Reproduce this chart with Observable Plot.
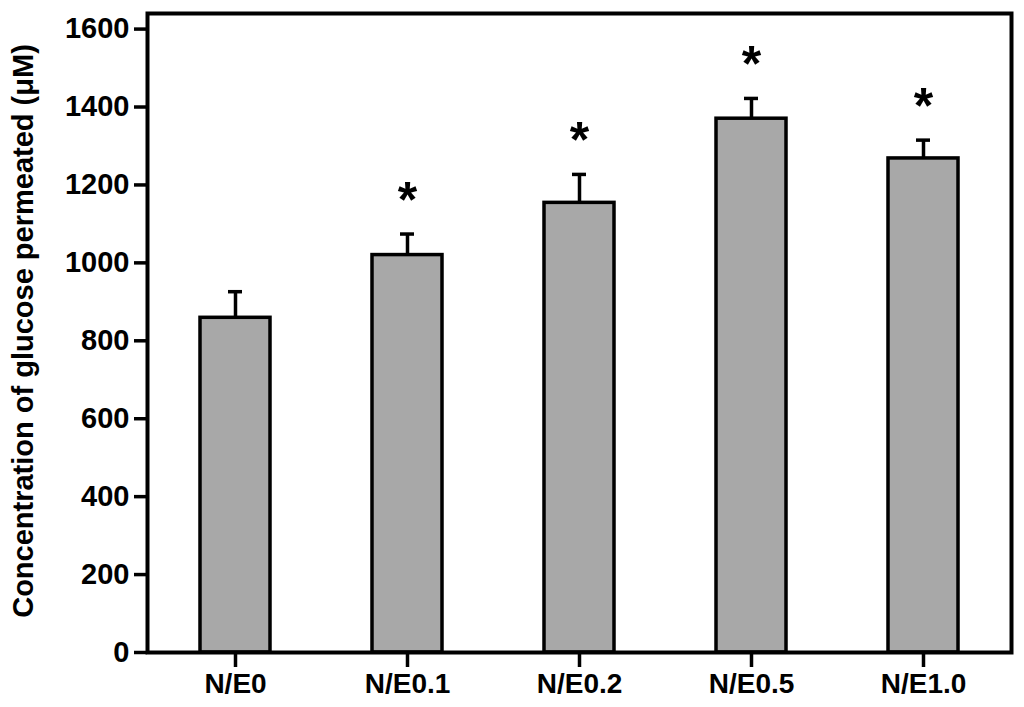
<!DOCTYPE html>
<html>
<head>
<meta charset="utf-8">
<script src="https://cdn.jsdelivr.net/npm/d3@7"></script>
<script src="https://cdn.jsdelivr.net/npm/@observablehq/plot@0.6"></script>
<style>
  html, body { margin: 0; padding: 0; background: #fff; }
  #chart svg { display: block; }
</style>
</head>
<body>
<div id="chart"></div>
<script>
const categories = ["N/E0", "N/E0.1", "N/E0.2", "N/E0.5", "N/E1.0"];
const means = [859, 1020, 1154, 1370, 1268];
const errors = [67, 54, 73, 52, 47];
const significant = [false, true, true, true, true];
const yTicks = [0, 200, 400, 600, 800, 1000, 1200, 1400, 1600];

const data = categories.map((c, i) => ({
  cat: c, mean: means[i], top: means[i] + errors[i], sig: significant[i]
}));

const chart = Plot.plot({
  width: 1024,
  height: 707,
  marginLeft: 147,
  marginRight: 13,
  marginTop: 13,
  marginBottom: 55,
  style: { fontFamily: "'Liberation Sans', Arial, sans-serif", fontWeight: "bold", background: "#fff" },
  x: { domain: categories, paddingInner: 0.595, paddingOuter: 0.2975, label: null },
  y: { domain: [0, 1640], label: null },
  marks: [
    Plot.ruleX(data, { x: "cat", y1: "mean", y2: "top", stroke: "#000", strokeWidth: 3.5 }),
    Plot.tickY(data, { x: "cat", y: "top", stroke: "#000", strokeWidth: 3.5, insetLeft: 28, insetRight: 28 }),
    Plot.barY(data, { x: "cat", y: "mean", fill: "#a8a8a8", stroke: "#000", strokeWidth: 3.5 }),
    Plot.text(data.filter(d => d.sig), { x: "cat", y: "top", text: () => "*", dy: -33, fontSize: 50, fontWeight: "bold", fill: "#000" }),
    Plot.frame({ stroke: "#000", strokeWidth: 4 }),
    Plot.axisY({ ticks: yTicks, tickSize: 13, tickPadding: 5, tickFormat: d => String(d), fontSize: 29, fontWeight: "bold", strokeWidth: 3.5, label: null }),
    Plot.axisX({ tickSize: 15, tickPadding: 6, fontSize: 28, fontWeight: "bold", strokeWidth: 3.5, label: null }),
    Plot.text(["Concentration of glucose permeated (\u03bcM)"], {
      frameAnchor: "left", textAnchor: "middle", dx: -124, dy: -2, rotate: -90, fontSize: 29, fontWeight: "bold", fill: "#000"
    })
  ]
});
document.getElementById("chart").appendChild(chart);
</script>
</body>
</html>
